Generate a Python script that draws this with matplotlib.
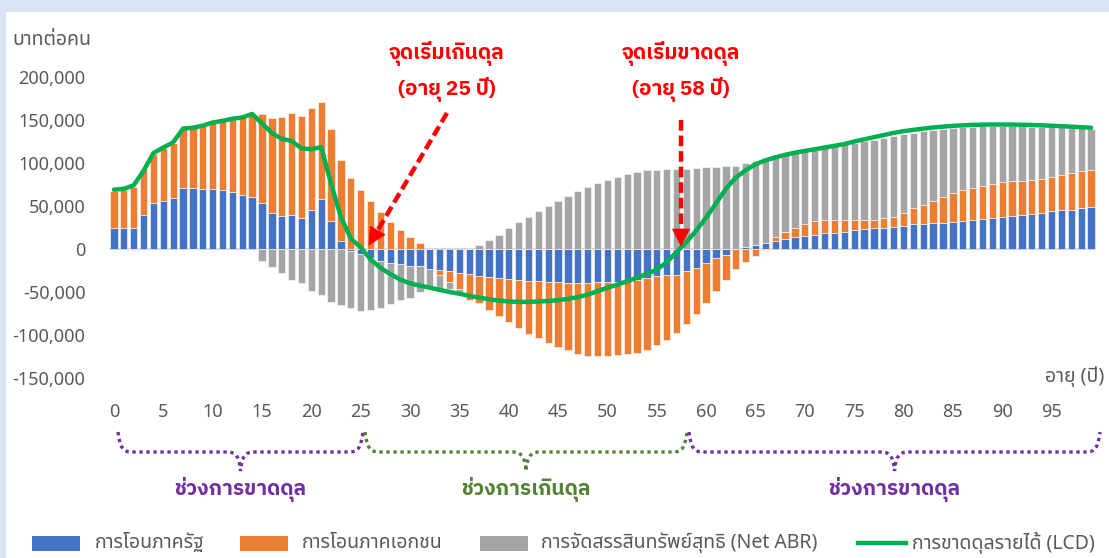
import numpy as np
import matplotlib
matplotlib.use("Agg")
import matplotlib.pyplot as plt
import matplotlib.transforms as mtransforms
from matplotlib.lines import Line2D
from matplotlib.patches import Rectangle, Polygon, PathPatch
from matplotlib.path import Path
from matplotlib.ticker import FuncFormatter

plt.rcParams["font.family"] = ["Noto Sans Thai", "IBM Plex Sans Thai", "Noto Sans", "DejaVu Sans"]
BOLD_FAM = ["IBM Plex Sans Thai", "Noto Sans Thai", "DejaVu Sans"]

# ---- ข้อมูล (บาทต่อคน, พันบาท) อายุ 0-99
ages = np.arange(100)

gov_transfer = np.array([
    25, 24, 25, 39.4, 53, 56, 59.7, 71.4, 70.6, 69.4, 69.4, 68.6, 66, 63, 60, 53.8, 42, 38, 40, 35.5,
    45.6, 58, 33, 9.4, -2, -5.5, -11, -14, -16.4, -17.9, -19.5, -20.3, -23.2, -24.6, -25.7, -27.6, -29.4, -31.4, -32.6, -34,
    -34.5, -35.5, -36.7, -37.4, -38.2, -38.6, -39.2, -39.4, -39.6, -38.8, -38.6, -38.6, -37.5, -35.5, -33.6, -31.3, -30.5, -29.7, -25.9, -22,
    -16.8, -10.2, -6.5, -0.5, 1.9, 5, 7.5, 8.8, 11.2, 13.5, 14.6, 16.2, 18.1, 18.9, 20, 21.6, 22.7, 23.9, 25, 25.9,
    27, 28.5, 29.3, 30.5, 30.5, 31.7, 32.8, 34, 34.8, 36.3, 37.5, 38.6, 39.8, 41, 42.1, 44, 45.2, 45.9, 47.9, 49,
]) * 1000

priv_transfer = np.array([
    43, 44.5, 47, 54.1, 58, 61.5, 63.8, 68.1, 69.9, 73.6, 77.1, 79.9, 85, 90, 95.5, 103.2, 110.5, 115, 118, 119,
    117.9, 113.5, 106, 93.6, 82, 68.6, 55.4, 43, 31, 21.8, 13.5, 6.6, 0, -5.8, -12.6, -19.2, -30, -31.5, -38, -44,
    -50.9, -56.5, -62.3, -66.4, -71.4, -74.9, -78.8, -82.3, -84.4, -85.6, -85.4, -85.1, -85, -85.1, -83.4, -80.3, -75.3, -68.3, -61.7, -54,
    -46.5, -38.1, -29, -23, -15.5, -8.7, -1.5, 4.7, 8.1, 11.2, 13.9, 16.3, 16.2, 15.4, 14.3, 12.7, 11.6, 10.4, 10.5, 11.6,
    14.3, 18.6, 21.7, 25.5, 30.2, 33.6, 35.6, 37.5, 38.6, 39.8, 40.5, 40.3, 39.8, 39.7, 39.8, 39.9, 41.3, 43, 42.6, 43.3,
]) * 1000

net_abr = np.array([
    0, 0, -1, 0, 0, 0, 0, 0, -0.5, 0, 0, 0, 0, 0, 0, -14, -20.7, -27.7, -35.5, -39.4,
    -49, -53.8, -61.6, -64.7, -67, -66.7, -60.4, -54.6, -47.6, -41.4, -37, -29.7, -20.3, -17.2, -8.7, -4.7, 0, 4.7, 10.7, 16.5,
    24, 31, 37.5, 44, 50.3, 55.8, 61.6, 67.5, 72.5, 76.3, 80, 84.3, 87.4, 89.8, 91.3, 92, 92.8, 93.2, 93.6, 94.4,
    95, 95.5, 96.3, 97, 97.6, 97, 97.8, 94.3, 90.7, 87.8, 86.1, 84.5, 84.4, 86.2, 87.7, 89, 90.9, 92.9, 93.7, 93.7,
    92, 88.2, 86, 82.4, 78.8, 75.4, 73, 70.7, 69.1, 66.7, 64.8, 63.9, 63, 61.5, 60.1, 57.8, 54.8, 52.1, 50, 47.7,
]) * 1000

lcd = np.array([
    69, 70, 74, 91, 111.5, 118, 124, 140, 141, 143.5, 147, 149, 151.5, 153, 157, 146, 135, 128, 125.6, 117,
    116, 118.5, 76, 37, 12, 2, -12, -22, -29, -35.5, -40, -42.5, -45, -47.5, -50, -52, -54.5, -56.5, -58.5, -60,
    -61, -61.5, -61.5, -61, -60.5, -59.5, -58, -56, -53, -49, -45, -41.5, -37.5, -33.5, -29, -24, -15.5, -3.5, 8, 21.5,
    36.5, 53, 70, 83, 91.5, 98.5, 103, 106.5, 109.5, 112, 114, 116, 118, 120, 122, 125, 127.5, 130, 132.5, 135,
    137, 138.5, 140, 141.3, 142.3, 143.2, 143.8, 144.3, 144.6, 144.8, 144.8, 144.7, 144.5, 144.2, 143.8, 143.3, 142.8, 142.2, 141.6, 141,
]) * 1000

series_labels = ["การโอนภาครัฐ", "การโอนภาคเอกชน", "การจัดสรรสินทรัพย์สุทธิ (Net ABR)", "การขาดดุลรายได้ (LCD)"]
colors = ["#4472c4", "#ed7d31", "#a5a5a5", "#00b050"]
xticks = np.arange(0, 100, 5)
yticks = np.arange(-150000, 200001, 50000)

W, H = 1109, 558
TXT = "#595959"
RED = "#ff0000"
PURPLE = "#7030a0"
GREEN_T = "#548235"

fig = plt.figure(figsize=(W / 100, H / 100), dpi=100, facecolor="#dae3f3")
fig.patches.append(Rectangle((6 / W, 0), 1, (H - 12) / H, transform=fig.transFigure,
                             facecolor="white", edgecolor="none", zorder=-10))
# พิกัดพิกเซลจากมุมซ้ายบน
pxT = mtransforms.Affine2D().scale(1 / W, -1 / H).translate(0, 1) + fig.transFigure

ax = fig.add_axes([109 / W, 1 - 378 / H, (1096 - 109) / W, (378 - 77) / H])
ax.set_facecolor("none")

pos_base = np.zeros(len(ages))
neg_base = np.zeros(len(ages))
for vals, col in zip([gov_transfer, priv_transfer, net_abr], colors[:3]):
    bottom = np.where(vals >= 0, pos_base, neg_base)
    ax.bar(ages, vals, width=0.74, bottom=bottom, color=col, edgecolor="white", linewidth=0.4, zorder=2)
    pos_base = pos_base + np.clip(vals, 0, None)
    neg_base = neg_base + np.clip(vals, None, 0)

ax.axhline(0, color="#d9d9d9", lw=1.6, zorder=1)
ax.plot(ages, lcd, color=colors[3], lw=3.2, solid_joinstyle="round", solid_capstyle="round", zorder=4)

ax.set_xlim(-0.5, 99.5)
ax.set_ylim(-150000, 200000)
ax.set_xticks(xticks)
ax.set_yticks(yticks)
ax.yaxis.set_major_formatter(FuncFormatter(lambda v, p: f"{v:,.0f}"))
ax.tick_params(axis="y", length=0, pad=17, labelsize=13, labelcolor=TXT)
ax.tick_params(axis="x", length=0, pad=18, labelsize=13, labelcolor=TXT)
for sp in ax.spines.values():
    sp.set_visible(False)

fig.text(12 / W, 1 - 40 / H, "บาทต่อคน", fontsize=14, color=TXT, ha="left", va="center")
fig.text(1104 / W, 1 - 377 / H, "อายุ (ปี)", fontsize=14, color=TXT, ha="right", va="center")

# ---- ป้ายจุดเริ่ม + ลูกศรประ
for cx, l1, l2 in [(447, "จุดเริ่มเกินดุล", "(อายุ 25 ปี)"), (681, "จุดเริ่มขาดดุล", "(อายุ 58 ปี)")]:
    fig.text(cx / W, 1 - 53 / H, l1, fontsize=15, fontweight="bold", family=BOLD_FAM,
             color=RED, ha="center", va="center")
    fig.text(cx / W, 1 - 89 / H, l2, fontsize=15, fontweight="bold", family=BOLD_FAM,
             color=RED, ha="center", va="center")


def dashed_arrow(x0, y0, x1, y1, hl=17, hw=17):
    d = np.array([x1 - x0, y1 - y0], float)
    d /= np.hypot(*d)
    n = np.array([-d[1], d[0]])
    tip = np.array([x1, y1], float)
    base = tip - d * hl
    fig.add_artist(Line2D([x0, base[0] + d[0] * 2], [y0, base[1] + d[1] * 2], transform=pxT,
                          color=RED, lw=3.2, dashes=(2.4, 1.1)))
    fig.add_artist(Polygon([tip, base + n * hw / 2, base - n * hw / 2], closed=True,
                           transform=pxT, facecolor=RED, edgecolor=RED, lw=0.5))


dashed_arrow(447, 113, 369, 245)
dashed_arrow(681, 120, 681, 246)


# ---- วงเล็บปีกกาใต้แกน
def brace(xa, xb, col, label, ytop=432, ymid=452, ytip=471, r=14, r2=13):
    xc = (xa + xb) / 2
    verts = [(xa, ytop), (xa + 2, ymid - 4), (xa + 5, ymid), (xa + r, ymid),
             (xc - r2, ymid), (xc - 4, ymid), (xc - 1, ymid + 6), (xc, ytip),
             (xc + 1, ymid + 6), (xc + 4, ymid), (xc + r2, ymid),
             (xb - r, ymid), (xb - 5, ymid), (xb - 2, ymid - 4), (xb, ytop)]
    codes = [Path.MOVETO, Path.CURVE4, Path.CURVE4, Path.CURVE4,
             Path.LINETO, Path.CURVE4, Path.CURVE4, Path.CURVE4,
             Path.CURVE4, Path.CURVE4, Path.CURVE4,
             Path.LINETO, Path.CURVE4, Path.CURVE4, Path.CURVE4]
    fig.add_artist(PathPatch(Path(verts, codes), transform=pxT, fill=False, capstyle="butt",
                             edgecolor=col, lw=2.4, linestyle=(0, (1.0, 1.1))))
    fig.text(xc / W, 1 - 489 / H, label, fontsize=15, fontweight="bold", family=BOLD_FAM,
             color=col, ha="center", va="center")


brace(118, 363, PURPLE, "ช่วงการขาดดุล")
brace(365, 687, GREEN_T, "ช่วงการเกินดุล")
brace(689, 1100, PURPLE, "ช่วงการขาดดุล")

# ---- คำอธิบาย (legend)
ly = 543
for (x0, tx), lab, col in zip([(32, 95), (240, 302), (480, 541)], series_labels[:3], colors[:3]):
    fig.patches.append(Rectangle((x0 / W, 1 - 551 / H), 48 / W, 15 / H, transform=fig.transFigure,
                                 facecolor=col, edgecolor="none"))
    fig.text(tx / W, 1 - ly / H, lab, fontsize=14, color=TXT, ha="left", va="center")
fig.add_artist(Line2D([858 / W, 906 / W], [1 - ly / H, 1 - ly / H], transform=fig.transFigure,
                      color=colors[3], lw=3.2))
fig.text(912 / W, 1 - ly / H, series_labels[3], fontsize=14, color=TXT, ha="left", va="center")

fig.savefig("out.png", dpi=100, facecolor=fig.get_facecolor())
